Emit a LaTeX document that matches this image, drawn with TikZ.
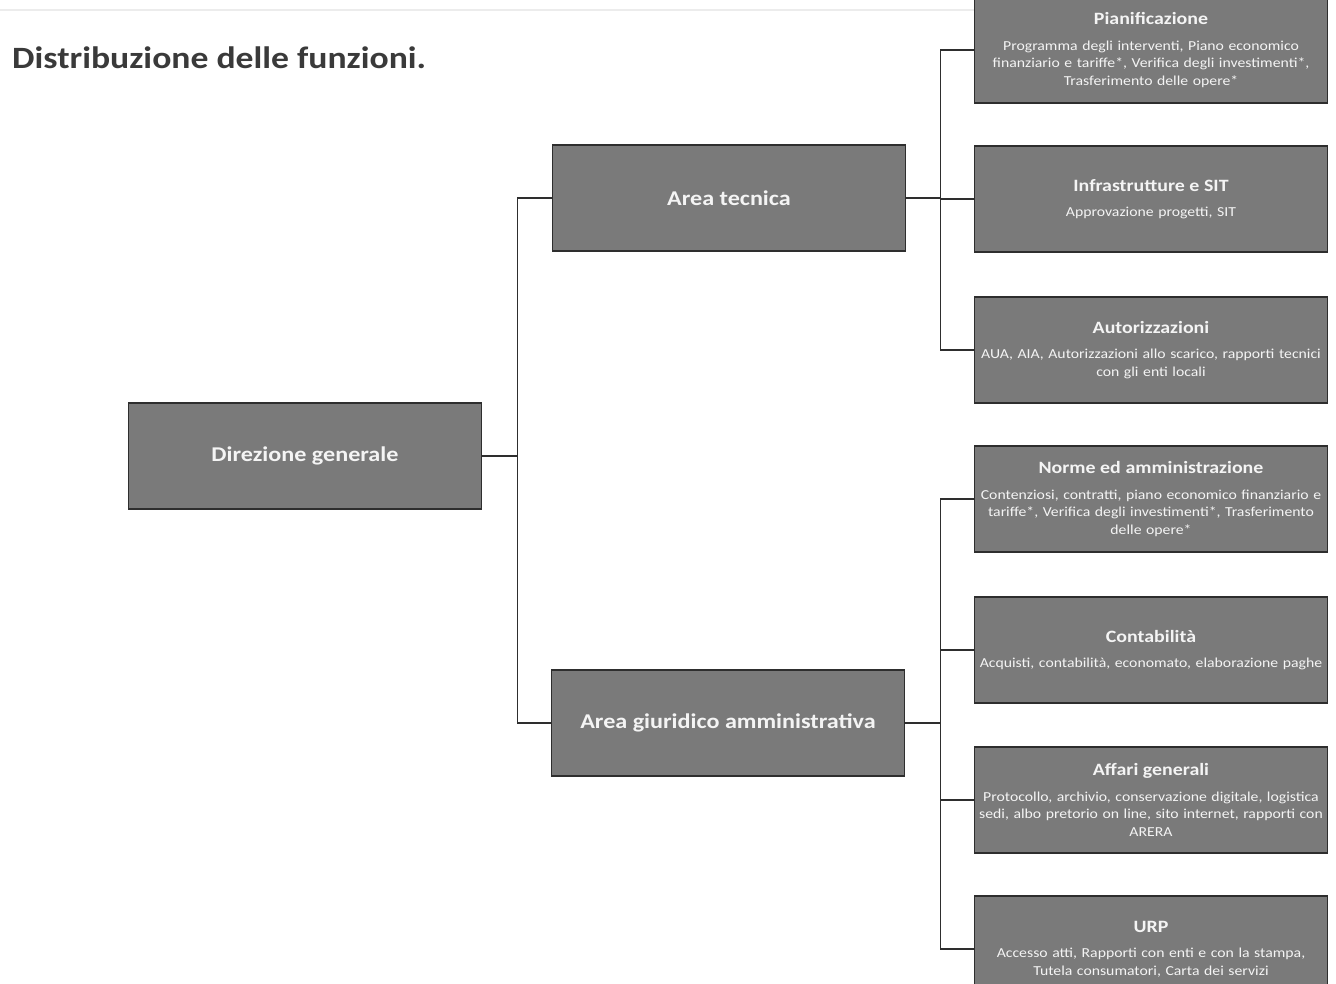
\documentclass[tikz,border=0pt]{standalone}
\usepackage{fontspec}
\setmainfont{Carlito}[FakeStretch=1.15]
\usetikzlibrary{positioning}
\definecolor{boxgrey}{HTML}{7A7A7A}
\definecolor{edgegrey}{HTML}{2E2E2E}
\definecolor{textwhite}{HTML}{F4F4F4}
\definecolor{titlegrey}{HTML}{3A3A3A}
\definecolor{pagegrey}{HTML}{ECECEC}
\newcommand\boxtitle[1]{{\bfseries\fontsize{17.3}{20}\selectfont #1}\\[8pt]}
\tikzset{
  unit/.style={draw=edgegrey, line width=1.6pt, fill=boxgrey, text=textwhite,
    minimum width=353pt, minimum height=106pt, inner sep=0pt, align=center,
    font=\bfseries\fontsize{21}{25}\selectfont},
  office/.style={unit, text width=351pt, font=\fontsize{13.7}{17.5}\selectfont},
  link/.style={draw=edgegrey, line width=1.3pt}
}

\begin{document}
\begin{tikzpicture}[x=1pt, y=-1pt]
  \useasboundingbox[fill=white] (0, 0) rectangle (1336, 983);
  \draw[pagegrey, line width=1.5pt] (0, 10) -- (975, 10);
  \draw (12, 58) node[anchor=west, text=titlegrey, inner sep=0pt,
    font=\bfseries\fontsize{31}{35}\selectfont] (title) {Distribuzione delle funzioni.};
  \draw (305, 456) node[unit] (dir) {Direzione generale};
  \draw (729, 198) node[unit] (tec) {Area tecnica};
  \draw (728, 723) node[unit] (giu) {Area giuridico amministrativa};
  \draw (1151, 50) node[office] (pian) {\boxtitle{Pianificazione}Programma degli interventi, Piano economico\\ finanziario e tariffe*, Verifica degli investimenti*,\\ Trasferimento delle opere*};
  \draw (1151, 199) node[office] (infr) {\boxtitle{Infrastrutture e SIT}Approvazione progetti, SIT};
  \draw (1151, 350) node[office] (aut) {\boxtitle{Autorizzazioni}AUA, AIA, Autorizzazioni allo scarico, rapporti tecnici\\ con gli enti locali};
  \draw (1151, 499) node[office] (norm) {\boxtitle{Norme ed amministrazione}Contenziosi, contratti, piano economico finanziario e\\ tariffe*, Verifica degli investimenti*, Trasferimento\\ delle opere*};
  \draw (1151, 650) node[office] (cont) {\boxtitle{Contabilità}Acquisti, contabilità, economato, elaborazione paghe};
  \draw (1151, 800) node[office] (aff) {\boxtitle{Affari generali}Protocollo, archivio, conservazione digitale, logistica\\ sedi, albo pretorio on line, sito internet, rapporti con\\ ARERA};
  \draw (1151, 949) node[office] (urp) {\boxtitle{URP}Accesso atti, Rapporti con enti e con la stampa,\\ Tutela consumatori, Carta dei servizi};
  \draw[link] (dir.east) -- ++(35, 0) coordinate (j1);
  \draw[link] (j1) |- (tec.west);
  \draw[link] (j1) |- (giu.west);
  \draw[link] (tec.east) -- ++(34, 0) coordinate (j2);
  \draw[link] (j2) |- (pian.west);
  \draw[link] (j2) |- (infr.west);
  \draw[link] (j2) |- (aut.west);
  \draw[link] (giu.east) -- ++(35, 0) coordinate (j3);
  \draw[link] (j3) |- (norm.west);
  \draw[link] (j3) |- (cont.west);
  \draw[link] (j3) |- (aff.west);
  \draw[link] (j3) |- (urp.west);
\end{tikzpicture}
\end{document}
